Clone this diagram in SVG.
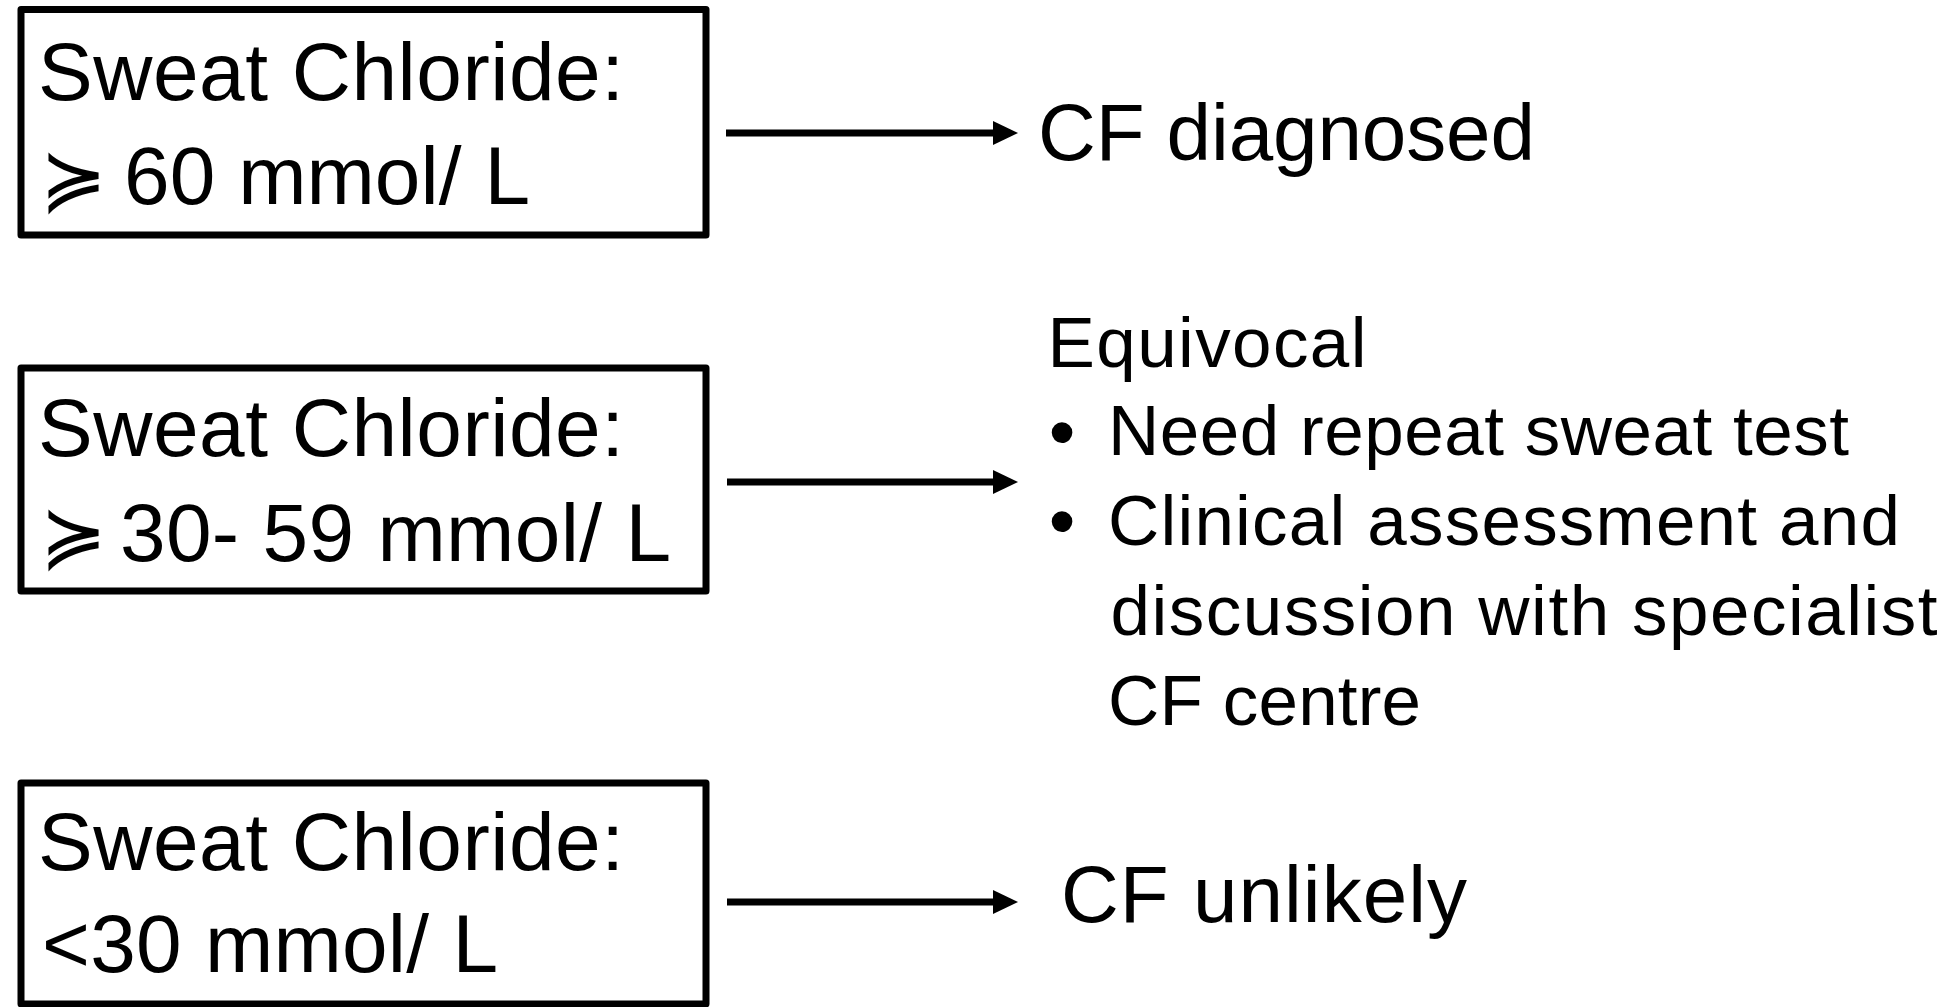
<svg xmlns="http://www.w3.org/2000/svg" width="1954" height="1007" viewBox="0 0 1954 1007">
<style>
.box{fill:#fff;stroke:#000;stroke-width:7;stroke-linejoin:round}
.t{font-family:"Liberation Sans",Arial,sans-serif;fill:#000}
.big{font-size:82px}
.mid{font-size:80px}
.sm{font-size:71px}
.bul{font-family:"Liberation Sans",Arial,sans-serif;font-size:76px;fill:#000}
.sym{font-family:"DejaVu Sans",sans-serif;font-size:80px;font-weight:200;fill:#000}
.conn{stroke:#000;stroke-width:7;fill:none}
</style>
<defs>
<marker id="ah" markerUnits="userSpaceOnUse" markerWidth="26" markerHeight="26" refX="0" refY="12" orient="auto">
<path d="M0,0 L25,12 L0,24 z" fill="#000"/>
</marker>
</defs>
<rect width="1954" height="1007" fill="#fff"/>
<g id="node-ge60">
<rect class="box" x="21" y="9.5" width="685" height="225.5"/>
<text class="t big" x="38" y="100" textLength="586">Sweat Chloride:</text>
<text class="sym" x="40" y="206">≽</text>
<text class="t big" x="124" y="204" textLength="406">60 mmol/ L</text>
</g>
<g id="node-30-59">
<rect class="box" x="21" y="368" width="685" height="223"/>
<text class="t big" x="38" y="456" textLength="586">Sweat Chloride:</text>
<text class="sym" x="40" y="563">≽</text>
<text class="t big" x="120" y="561" textLength="551">30- 59 mmol/ L</text>
</g>
<g id="node-lt30">
<rect class="box" x="21" y="783" width="685" height="221"/>
<text class="t big" x="38" y="870" textLength="586">Sweat Chloride:</text>
<text class="t big" x="42" y="972" textLength="456">&lt;30 mmol/ L</text>
</g>
<g id="node-diagnosed">
<text class="t mid" x="1038" y="160" textLength="497">CF diagnosed</text>
</g>
<g id="node-equivocal">
<text class="t sm" x="1047.5" y="367" textLength="319">Equivocal</text>
<text class="bul" x="1062" y="458" text-anchor="middle">•</text>
<text class="t sm" x="1108" y="455" textLength="741">Need repeat sweat test</text>
<text class="bul" x="1062" y="547" text-anchor="middle">•</text>
<text class="t sm" x="1108" y="545" textLength="792">Clinical assessment and</text>
<text class="t sm" x="1110.5" y="635" textLength="827">discussion with specialist</text>
<text class="t sm" x="1108" y="725" textLength="313">CF centre</text>
</g>
<g id="node-unlikely">
<text class="t mid" x="1061" y="922" textLength="406">CF unlikely</text>
</g>
<g id="connectors">
<line class="conn" x1="726" y1="133" x2="993" y2="133" marker-end="url(#ah)"/>
<line class="conn" x1="727" y1="482" x2="993" y2="482" marker-end="url(#ah)"/>
<line class="conn" x1="727" y1="902" x2="993" y2="902" marker-end="url(#ah)"/>
</g>
</svg>
